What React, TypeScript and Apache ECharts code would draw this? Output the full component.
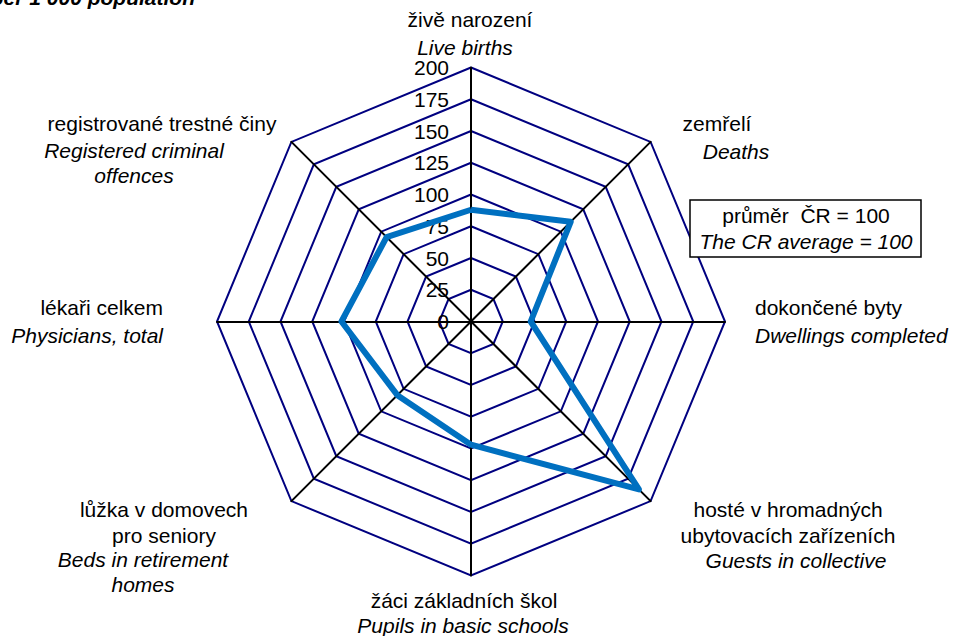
import React, { useEffect, useRef } from "react";
import * as echarts from "echarts";

// Categories listed clockwise from the top
const namesCz = [
  "živě narození",
  "zemřelí",
  "dokončené byty",
  "hosté v hromadných\nubytovacích zařízeních",
  "žáci základních škol",
  "lůžka v domovech\npro seniory",
  "lékaři celkem",
  "registrované trestné činy",
];
const namesEn = [
  "Live births",
  "Deaths",
  "Dwellings completed",
  "Guests in collective",
  "Pupils in basic schools",
  "Beds in retirement\nhomes",
  "Physicians, total",
  "Registered criminal\noffences",
];
// Values relative to the CR average (= 100)
const regionValues = [88, 111, 47, 187, 97, 82, 102, 94];
const axisMin = 0;
const axisMax = 200;
const tickLabels = ["0", "25", "50", "75", "100", "125", "150", "175", "200"];
const legendLines = ["průměr  ČR = 100", "The CR average = 100"];
const titleText = "per 1 000 population";

const FONT = "'Liberation Sans', Arial, sans-serif";

// Label placement (layout only)
const nameLayout = [
  { cz: [470, 19, "center"], en: [465, 47, "center"] },
  { cz: [717, 123, "center"], en: [736, 151, "center"] },
  { cz: [755, 307, "left"], en: [755, 335, "left"] },
  { cz: [788, 522, "center"], en: [796, 560, "center"] },
  { cz: [464, 600, "center"], en: [463, 625, "center"] },
  { cz: [164, 522, "center"], en: [143, 572, "center"] },
  { cz: [163, 307, "right"], en: [163, 335, "right"] },
  { cz: [162, 123, "center"], en: [134, 163, "center"] },
];

export default function App() {
  const ref = useRef<HTMLDivElement>(null);
  useEffect(() => {
    document.body.style.margin = "0";
    if (!ref.current) return;
    const chart = echarts.init(ref.current, undefined, { renderer: "svg" });
    // ECharts radar runs counter-clockwise: reorder clockwise data
    const order = [0, 7, 6, 5, 4, 3, 2, 1];
    const indicator = order.map((i, k) => {
      const o: any = { name: namesEn[i], min: axisMin, max: axisMax };
      if (k === 0) o.axisLabel = { show: true };
      return o;
    });
    const graphic: any[] = [];
    nameLayout.forEach((l, i) => {
      graphic.push({
        type: "text",
        x: l.cz[0],
        y: l.cz[1],
        style: {
          text: namesCz[i],
          font: `21px ${FONT}`,
          fill: "#000",
          textAlign: l.cz[2],
          textVerticalAlign: "middle",
          lineHeight: 26,
        },
      });
      graphic.push({
        type: "text",
        x: l.en[0],
        y: l.en[1],
        style: {
          text: namesEn[i],
          font: `italic 21px ${FONT}`,
          fill: "#000",
          textAlign: l.en[2],
          textVerticalAlign: "middle",
          lineHeight: 25,
        },
      });
    });
    graphic.push({
      type: "rect",
      shape: { x: 690, y: 200, width: 231, height: 57 },
      style: { fill: "#fff", stroke: "#000", lineWidth: 1.5 },
      z: 10,
    });
    graphic.push({
      type: "text",
      x: 806,
      y: 215,
      z: 11,
      style: { text: legendLines[0], font: `21px ${FONT}`, fill: "#000", textAlign: "center", textVerticalAlign: "middle" },
    });
    graphic.push({
      type: "text",
      x: 806,
      y: 241,
      z: 11,
      style: { text: legendLines[1], font: `italic 21px ${FONT}`, fill: "#000", textAlign: "center", textVerticalAlign: "middle" },
    });
    graphic.push({
      type: "text",
      x: 195,
      y: -3,
      style: { text: titleText, font: `italic bold 21px ${FONT}`, fill: "#000", textAlign: "right", textVerticalAlign: "middle" },
    });

    chart.setOption({
      animation: false,
      backgroundColor: "#fff",
      radar: {
        center: [471, 321.5],
        radius: 254,
        startAngle: 90,
        shape: "polygon",
        splitNumber: 8,
        indicator,
        axisName: { show: false },
        axisLine: { lineStyle: { color: "#000", width: 2 } },
        splitLine: { lineStyle: { color: "#000080", width: 2 } },
        splitArea: { show: false },
        axisTick: { show: false },
        axisLabel: {
          show: false,
          color: "#000",
          fontSize: 21,
          fontFamily: FONT,
          margin: 22,
          formatter: (v: number) => tickLabels[Math.round((v - axisMin) / 25)] ?? String(v),
        },
      },
      series: [
        {
          type: "radar",
          symbol: "none",
          lineStyle: { color: "#0070C0", width: 6 },
          data: [{ value: order.map((i) => regionValues[i]), name: "region" }],
          z: 5,
        },
      ],
      graphic,
    });
    return () => chart.dispose();
  }, []);
  return <div ref={ref} style={{ width: 954, height: 636 }} />;
}
